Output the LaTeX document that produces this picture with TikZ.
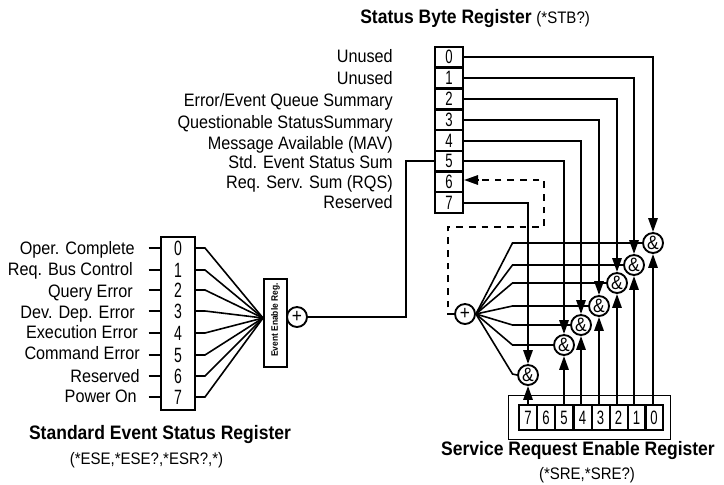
\documentclass[tikz,border=0pt]{standalone}
\usepackage{fontspec}
\setmainfont[FakeStretch=0.9]{Liberation Sans}
\newfontfamily\digitf[FakeStretch=0.68]{Liberation Sans}
\usetikzlibrary{arrows.meta}
\tikzset{
  wire/.style={line width=1.5pt,line join=miter},
  thin wire/.style={line width=1.2pt},
  tip/.style={wire,-{Triangle[length=10.5pt,width=7pt]}},
  dashwire/.style={wire,dash pattern=on 5pt off 4.5pt},
  cell/.style={draw=black,line width=1.5pt,inner sep=0pt,font=\digitf\fontsize{14.5}{16}\selectfont},
  lbl/.style={inner sep=0pt,anchor=east,yshift=-1.1pt,font=\fontsize{13.5}{15}\selectfont,text height=9.5pt,text depth=2.5pt},
  gate/.style={circle,draw=black,line width=1.4pt,fill=white,minimum size=15pt,inner sep=0pt,font=\fontsize{14.5}{16}\selectfont},
  ttl/.style={inner sep=0pt,font=\fontsize{14.6}{16}\bfseries\selectfont},
  sub/.style={inner sep=0pt,font=\fontsize{12.5}{14}\selectfont}
}
\begin{document}
\begin{tikzpicture}[x=0.75pt,y=-0.75pt]
\useasboundingbox (0,0) rectangle (724,485);
% Status byte register
\foreach \i/\y/\ly/\t in {0/57/56/Unused,1/78/78/Unused,2/99/100/Error\slash Event Queue Summary,3/120/122/Questionable StatusSummary,4/140.5/143/Message Available (MAV),5/161/162/Std. Event Status Sum,6/182/182/Req. Serv. Sum (RQS),7/202.5/202/Reserved}{
  \node[cell,minimum width=21pt,minimum height=15.5pt] (s\i) at (449,\y) {\i};
  \node[lbl] (sl\i) at (393,\ly) {\t};
}
% Standard event register
\node[draw=black,line width=1.5pt,minimum width=25.5pt,minimum height=130pt,inner sep=0pt] (ser) at (178,323.5) {};
\foreach \i/\y/\ly/\lx/\t in {0/248/248/135/Oper. Complete,1/270/269/133/Req. Bus Control,2/290/291/133/Query Error,3/311/312/135/Dev. Dep. Error,4/333/332/138/Execution Error,5/355/353/140/Command Error,6/376/376/140/Reserved,7/397/396/137/Power On}{
  \node[inner sep=0pt,font=\digitf\fontsize{15.5}{17}\selectfont] (e\i) at (178,\y) {\i};
  \node[lbl] (el\i) at (\lx,\ly) {\t};
  \coordinate (ti\i) at (161,\y);
  \coordinate (tl\i) at (148.5,\y);
  \coordinate (to\i) at (195,\y);
  \coordinate (kn\i) at (205,\y);
  \draw[thin wire] (tl\i) -- (ti\i);
}
\node[draw=black,line width=1.5pt,minimum width=17pt,minimum height=66pt,inner sep=0pt] (eer) at (275.5,322.5) {};
\node[rotate=90,inner sep=0pt,font=\fontsize{7}{9}\bfseries\selectfont] (eert) at (275.5,320) {Event Enable Reg.};
\coordinate (fan) at (263,318);
\foreach \i in {0,...,7}{\draw[thin wire] (to\i) -- (kn\i) -- (fan);}
\node[gate] (pl) at (297,317) {+};
\coordinate (el5) at (406,317);
\coordinate (elt) at (406,161);
\draw[thin wire] (pl.east) -- (el5) -- (elt) -- (s5.west);
% Enable register at the bottom
\node[draw=black,line width=0.7pt,minimum width=121.5pt,minimum height=33pt,inner sep=0pt] (srebox) at (589,417) {};
\foreach \i/\x in {7/528,6/546,5/564,4/582.5,3/600.5,2/618.5,1/636.5,0/654}{
  \node[cell,minimum width=13.5pt,minimum height=19pt] (r\i) at (\x,417.5) {\i};
}
% Gates
\foreach \i/\x/\y in {0/653/243,1/634/265,2/617/283,3/599/306,4/581/325,5/564/345,7/528/375}{
  \node[gate] (a\i) at (\x,\y) {\&};
}
\node[gate] (p2) at (465,314) {+};
\foreach \i in {0,1,2,3,4,5,7}{
  \draw[tip] (s\i.east) -| (a\i.north);
  \draw[tip] (a\i.south |- r\i.north) -- (a\i.south);
}
\foreach \i/\y in {0/243,1/265,2/283,3/306,4/325,5/345,7/374}{
  \coordinate (k\i) at (512.5,\y);
  \draw[thin wire] (p2.east) -- (k\i) -- (a\i.west);
}
% Dashed feedback
\coordinate (d1) at (448,314);
\coordinate (d2) at (448,227);
\coordinate (d3) at (544,227);
\coordinate (d4) at (544,180);
\draw[dashwire] (p2.west) -- (d1) -- (d2) -- (d3) -- (d4) -- (s6.east |- d4);
\draw[tip] (478,180) -- (s6.east |- d4);
% Titles
\node[inner sep=0pt,anchor=base west] (t1) at (360,24) {\fontsize{14.6}{16}\bfseries\selectfont Status Byte Register\ \fontsize{12.5}{14}\mdseries\selectfont(*STB?)};
\node[ttl] (t2) at (160,435) {Standard Event Status Register};
\node[sub] (t3) at (146.5,460) {(*ESE,*ESE?,*ESR?,*)};
\node[ttl] (t4) at (578,451) {Service Request Enable Register};
\node[sub] (t5) at (587,475) {(*SRE,*SRE?)};
\end{tikzpicture}
\end{document}
